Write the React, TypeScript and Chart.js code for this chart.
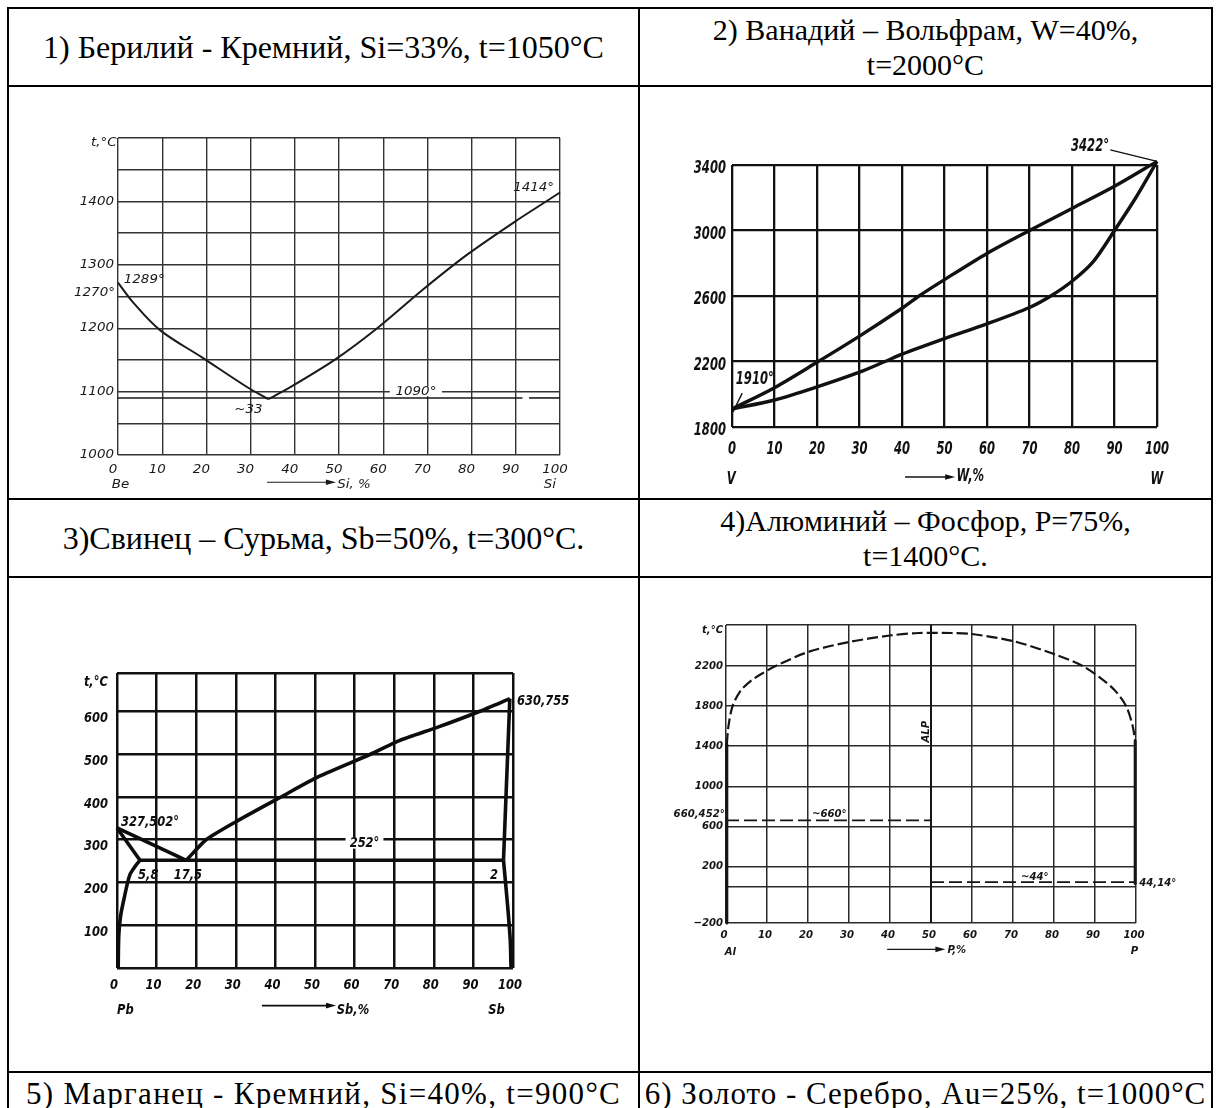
import React, { useEffect, useRef } from "react";
import { Chart, registerables } from "chart.js";

Chart.register(...registerables);

type Pt = [number, number];

// ================= DATA =================
// 1) Бериллий – Кремний
const BESI_X_TICKS = [0, 10, 20, 30, 40, 50, 60, 70, 80, 90, 100];
const BESI_Y_GRID = [1000, 1050, 1100, 1150, 1200, 1250, 1300, 1350, 1400, 1450, 1500];
const BESI_Y_LABELS = [1000, 1100, 1200, 1300, 1400];
const BESI_LIQ_LEFT: Pt[] = [[0, 1272], [3.5, 1240], [9.5, 1197], [19, 1154], [29, 1108], [34, 1088]];
const BESI_LIQ_RIGHT: Pt[] = [[34, 1088], [39, 1107], [49, 1150], [59, 1202], [69, 1261], [79, 1316], [90, 1369], [100, 1414]];
const BESI_EUT_A: Pt[] = [[0, 1090], [91.5, 1090]];
const BESI_EUT_B: Pt[] = [[93, 1090], [100, 1090]];

// 2) Ванадий – Вольфрам
const VW_X_TICKS = [0, 10, 20, 30, 40, 50, 60, 70, 80, 90, 100];
const VW_Y_GRID = [1800, 2200, 2600, 3000, 3400];
const VW_LIQUIDUS: Pt[] = [[0, 1910], [10, 2040], [20, 2195], [30, 2355], [40, 2525], [44, 2600], [50, 2700], [60, 2860], [70, 3000], [80, 3135], [90, 3270], [100, 3422]];
const VW_SOLIDUS: Pt[] = [[0, 1910], [10, 1965], [20, 2045], [30, 2135], [36, 2200], [40, 2245], [50, 2340], [60, 2430], [70, 2530], [75, 2600], [80, 2690], [85, 2810], [90, 3000], [95, 3200], [100, 3422]];
const VW_LEAD_TOP: Pt[] = [[89, 3492], [100, 3422]];
const VW_LEAD_LOW: Pt[] = [[2.4, 2007], [0.2, 1890]];

// 3) Свинец – Сурьма
const PBSB_X_TICKS = [0, 10, 20, 30, 40, 50, 60, 70, 80, 90, 100];
const PBSB_Y_GRID = [0, 100, 200, 300, 400, 500, 600, 690];
const PBSB_Y_LABELS = [100, 200, 300, 400, 500, 600];
const PBSB_LIQ_LEFT: Pt[] = [[0, 327.5], [17.5, 252]];
const PBSB_LIQ_RIGHT: Pt[] = [[17.5, 252], [22.5, 300], [30, 342], [41.4, 400], [51, 448], [64, 500], [71.3, 532], [81.2, 564], [91.5, 600], [99.2, 630]];
const PBSB_SOL_LEFT: Pt[] = [[0, 327.5], [5.8, 252]];
const PBSB_SOLVUS_LEFT: Pt[] = [[5.8, 252], [4.6, 238], [3.2, 217], [1.8, 163], [0.9, 121], [0.45, 76], [0.3, 0]];
const PBSB_EUTECTIC: Pt[] = [[5.8, 252], [97.6, 252]];
const PBSB_SOL_RIGHT: Pt[] = [[99.2, 630], [97.6, 252]];
const PBSB_SOLVUS_RIGHT: Pt[] = [[97.6, 252], [98.6, 150], [99.3, 66], [99.5, 0]];

// 4) Алюминий – Фосфор
const ALP_X_TICKS = [0, 10, 20, 30, 40, 50, 60, 70, 80, 90, 100];
const ALP_Y_GRID = [-365, 0, 200, 600, 1000, 1400, 1800, 2200, 2610];
const ALP_Y_LABEL_VALUES = [-365, 200, 600, 1000, 1400, 1800, 2200];
const ALP_Y_LABEL_TEXTS = ["\u2212200", "200", "600", "1000", "1400", "1800", "2200"];
const ALP_LIQUIDUS: Pt[] = [[0.2, 1420], [0.6, 1600], [1.6, 1800], [3.5, 1950], [6, 2050], [9, 2130], [12.1, 2200], [20, 2340], [30, 2440], [40, 2505], [47, 2530], [55, 2530], [60, 2520], [70, 2450], [80, 2320], [87, 2200], [92, 2060], [95, 1950], [97.6, 1800], [99.2, 1600], [99.8, 1450]];
const ALP_LEFT_EDGE: Pt[] = [[0.2, 1420], [0.2, -365]];
const ALP_RIGHT_EDGE: Pt[] = [[99.8, 1450], [99.8, 30]];
const ALP_COMPOUND: Pt[] = [[50, -365], [50, 2610]];
const ALP_AL_EUT: Pt[] = [[0, 660], [50, 660]];
const ALP_P_EUT: Pt[] = [[50, 44], [100, 44]];

// ================= TYPES =================
interface Series { pts: Pt[]; w: number; dash?: number[]; tension?: number }
interface Note { x: number; y: number; t: string; a?: CanvasTextAlign; bg?: boolean; rot?: number }
interface Arrow { x1: number; x2: number; y: number }
interface Spec {
  box: [number, number, number, number];
  area: [number, number, number, number];
  xMin: number; xMax: number; yMin: number; yMax: number;
  xGrid: number[]; yGrid: number[];
  xLabels: number[]; yLabelValues: number[]; yLabelTexts: string[];
  gridColor: string; gridWidth: number; ink: string;
  font: string; sx: number;
  xLabGap: number; xLabDx: number; yLabGap: number; yLabDy: number;
  series: Series[]; notes: Note[]; arrows: Arrow[]; arrowWidth: number;
}

// ================= CHART SPECS =================
const SPEC_BESI: Spec = {
  box: [9, 87, 629, 411],
  area: [118, 138, 560, 455],
  xMin: 0, xMax: 100, yMin: 1000, yMax: 1500,
  xGrid: BESI_X_TICKS, yGrid: BESI_Y_GRID,
  xLabels: BESI_X_TICKS, yLabelValues: BESI_Y_LABELS, yLabelTexts: BESI_Y_LABELS.map(String),
  gridColor: "#333", gridWidth: 1.4, ink: "#1a1a1a",
  font: "italic 12px 'DejaVu Sans'", sx: 1.12,
  xLabGap: 15, xLabDx: -5, yLabGap: 4, yLabDy: 0,
  series: [
    { pts: BESI_LIQ_LEFT, w: 2, tension: 0.35 },
    { pts: BESI_LIQ_RIGHT, w: 2, tension: 0.2 },
    { pts: BESI_EUT_A, w: 1.6 },
    { pts: BESI_EUT_B, w: 1.6 },
  ],
  notes: [
    { x: -0.3, y: 1492, t: "t,°C", a: "right" },
    { x: 1.3, y: 1276, t: "1289°", a: "left" },
    { x: -0.7, y: 1255, t: "1270°", a: "right" },
    { x: 89.4, y: 1421, t: "1414°", a: "left" },
    { x: 67.4, y: 1100, t: "1090°", a: "center", bg: true },
    { x: 29.5, y: 1071, t: "~33", a: "center" },
    { x: -1.4, y: 953, t: "Be", a: "left" },
    { x: 99.1, y: 953, t: "Si", a: "right" },
    { x: 49.6, y: 953, t: "Si, %", a: "left" },
  ],
  arrows: [{ x1: 33.7, x2: 49.3, y: 957 }],
  arrowWidth: 1.2,
};

const SPEC_VW: Spec = {
  box: [640, 87, 571, 411],
  area: [732, 165, 1157, 427],
  xMin: 0, xMax: 100, yMin: 1800, yMax: 3400,
  xGrid: VW_X_TICKS, yGrid: VW_Y_GRID,
  xLabels: VW_X_TICKS, yLabelValues: VW_Y_GRID, yLabelTexts: VW_Y_GRID.map(String),
  gridColor: "#111", gridWidth: 2.3, ink: "#111",
  font: "italic bold 17px 'DejaVu Sans'", sx: 0.68,
  xLabGap: 23, xLabDx: 0, yLabGap: 6, yLabDy: 4,
  series: [
    { pts: VW_LIQUIDUS, w: 3.4, tension: 0.3 },
    { pts: VW_SOLIDUS, w: 3.4, tension: 0.3 },
    { pts: VW_LEAD_TOP, w: 1.4 },
    { pts: VW_LEAD_LOW, w: 1.4 },
  ],
  notes: [
    { x: 88.7, y: 3510, t: "3422°", a: "right" },
    { x: 0.9, y: 2087, t: "1910°", a: "left" },
    { x: -0.2, y: 1476, t: "V", a: "center" },
    { x: 100, y: 1476, t: "W", a: "center" },
    { x: 52.8, y: 1495, t: "W,%", a: "left" },
  ],
  arrows: [{ x1: 40.7, x2: 52.5, y: 1495 }],
  arrowWidth: 1.6,
};

const SPEC_PBSB: Spec = {
  box: [9, 578, 629, 493],
  area: [117, 673, 513, 968],
  xMin: 0, xMax: 100, yMin: 0, yMax: 690,
  xGrid: PBSB_X_TICKS, yGrid: PBSB_Y_GRID,
  xLabels: PBSB_X_TICKS, yLabelValues: PBSB_Y_LABELS, yLabelTexts: PBSB_Y_LABELS.map(String),
  gridColor: "#111", gridWidth: 2.5, ink: "#0d0d0d",
  font: "italic bold 14px 'DejaVu Sans'", sx: 0.82,
  xLabGap: 17, xLabDx: -3, yLabGap: 9, yLabDy: 7,
  series: [
    { pts: PBSB_LIQ_LEFT, w: 3.6 },
    { pts: PBSB_LIQ_RIGHT, w: 3.6, tension: 0.2 },
    { pts: PBSB_SOL_LEFT, w: 3.6 },
    { pts: PBSB_SOLVUS_LEFT, w: 3.6, tension: 0.3 },
    { pts: PBSB_EUTECTIC, w: 3.6 },
    { pts: PBSB_SOL_RIGHT, w: 3.6 },
    { pts: PBSB_SOLVUS_RIGHT, w: 3.6, tension: 0.3 },
  ],
  notes: [
    { x: -2.3, y: 667, t: "t,°C", a: "right" },
    { x: 1.0, y: 341.5, t: "327,502°", a: "left" },
    { x: 62.5, y: 291.7, t: "252°", a: "center", bg: true },
    { x: 7.9, y: 217.5, t: "5,8", a: "center" },
    { x: 17.9, y: 217.5, t: "17,5", a: "center" },
    { x: 95.2, y: 217.5, t: "2", a: "center" },
    { x: 101, y: 623, t: "630,755", a: "left" },
    { x: 0, y: -98, t: "Pb", a: "left" },
    { x: 95.8, y: -98, t: "Sb", a: "center" },
    { x: 55.5, y: -98, t: "Sb,%", a: "left" },
  ],
  arrows: [{ x1: 36.6, x2: 55.3, y: -88 }],
  arrowWidth: 1.6,
};

const SPEC_ALP: Spec = {
  box: [640, 578, 571, 493],
  area: [726, 625, 1136, 923],
  xMin: 0, xMax: 100, yMin: -365, yMax: 2610,
  xGrid: ALP_X_TICKS, yGrid: ALP_Y_GRID,
  xLabels: ALP_X_TICKS, yLabelValues: ALP_Y_LABEL_VALUES, yLabelTexts: ALP_Y_LABEL_TEXTS,
  gridColor: "#2a2a2a", gridWidth: 1.5, ink: "#151515",
  font: "italic bold 11px 'DejaVu Sans'", sx: 0.92,
  xLabGap: 12, xLabDx: -2, yLabGap: 3, yLabDy: 0,
  series: [
    { pts: ALP_LIQUIDUS, w: 2.2, dash: [11, 4], tension: 0.3 },
    { pts: ALP_LEFT_EDGE, w: 3 },
    { pts: ALP_RIGHT_EDGE, w: 3 },
    { pts: ALP_COMPOUND, w: 2 },
    { pts: ALP_AL_EUT, w: 1.8, dash: [13, 5] },
    { pts: ALP_P_EUT, w: 1.8, dash: [13, 5] },
  ],
  notes: [
    { x: -0.7, y: 2560, t: "t,°C", a: "right" },
    { x: -0.3, y: 723, t: "660,452°", a: "right" },
    { x: 25.2, y: 723, t: "~660°", a: "center" },
    { x: 75.3, y: 97, t: "~44°", a: "center" },
    { x: 100.8, y: 31, t: "44,14°", a: "left" },
    { x: 48.8, y: 1545, t: "ALP", a: "center", rot: -Math.PI / 2 },
    { x: -0.3, y: -651, t: "Al", a: "left" },
    { x: 99.6, y: -645, t: "P", a: "center" },
    { x: 54, y: -635, t: "P,%", a: "left" },
  ],
  arrows: [{ x1: 39.3, x2: 53.5, y: -628 }],
  arrowWidth: 1.2,
};

// ================= PLUGIN =================
function makeNotesPlugin(spec: Spec) {
  return {
    id: "phaseNotes",
    afterDraw(chart: any) {
      const ctx: CanvasRenderingContext2D = chart.ctx;
      const xs = chart.scales.x;
      const ys = chart.scales.y;
      const area = chart.chartArea;
      const put = (t: string, px: number, py: number, align: CanvasTextAlign, bg?: boolean, rot?: number) => {
        ctx.save();
        ctx.font = spec.font;
        ctx.translate(px, py);
        if (rot) ctx.rotate(rot);
        ctx.scale(spec.sx, 1);
        ctx.textAlign = align;
        ctx.textBaseline = "middle";
        if (bg) {
          const w = ctx.measureText(t).width;
          const h = parseFloat(spec.font.replace(/.*?(\d+(\.\d+)?)px.*/, "$1"));
          const x0 = align === "center" ? -w / 2 : align === "right" ? -w : 0;
          ctx.fillStyle = "#fff";
          ctx.fillRect(x0 - 5, -h * 0.42, w + 10, h * 0.8);
        }
        ctx.fillStyle = spec.ink;
        ctx.fillText(t, 0, 0);
        ctx.restore();
      };
      spec.xLabels.forEach((v) => put(String(v), xs.getPixelForValue(v) + spec.xLabDx, area.bottom + spec.xLabGap, "center"));
      spec.yLabelValues.forEach((v, i) => put(spec.yLabelTexts[i], area.left - spec.yLabGap, ys.getPixelForValue(v) + spec.yLabDy, "right"));
      spec.notes.forEach((n) => put(n.t, xs.getPixelForValue(n.x), ys.getPixelForValue(n.y), n.a || "center", n.bg, n.rot));
      spec.arrows.forEach((a) => {
        const x1 = xs.getPixelForValue(a.x1);
        const x2 = xs.getPixelForValue(a.x2);
        const y = ys.getPixelForValue(a.y);
        ctx.save();
        ctx.strokeStyle = spec.ink;
        ctx.fillStyle = spec.ink;
        ctx.lineWidth = spec.arrowWidth;
        ctx.beginPath();
        ctx.moveTo(x1, y);
        ctx.lineTo(x2 - 6, y);
        ctx.stroke();
        ctx.beginPath();
        ctx.moveTo(x2, y);
        ctx.lineTo(x2 - 10, y - 2.8);
        ctx.lineTo(x2 - 10, y + 2.8);
        ctx.closePath();
        ctx.fill();
        ctx.restore();
      });
    },
  };
}

// ================= COMPONENTS =================
function PhaseChart({ spec }: { spec: Spec }) {
  const ref = useRef<HTMLCanvasElement>(null);
  const [bx, by, bw, bh] = spec.box;
  useEffect(() => {
    const c = ref.current;
    if (!c) return;
    const [l, t, r, b] = spec.area;
    c.width = bw;
    c.height = bh;
    const axis = (min: number, max: number, grid: number[], horizontal: boolean) => ({
      type: "linear" as const,
      min,
      max,
      afterBuildTicks: (s: any) => {
        s.ticks = grid.map((v) => ({ value: v }));
      },
      afterFit: (s: any) => {
        if (horizontal) s.height = 0;
        else s.width = 0;
      },
      ticks: { display: false },
      grid: { color: spec.gridColor, lineWidth: spec.gridWidth, drawTicks: false },
      border: { display: false },
    });
    const chart = new Chart(c, {
      type: "scatter",
      data: {
        datasets: spec.series.map((s) => ({
          data: s.pts.map(([x, y]) => ({ x, y })),
          showLine: true,
          borderColor: spec.ink,
          backgroundColor: spec.ink,
          borderWidth: s.w,
          borderDash: s.dash || [],
          tension: s.tension || 0,
          pointRadius: 0,
          pointHoverRadius: 0,
          clip: false as any,
          fill: false,
          borderCapStyle: "butt" as const,
          borderJoinStyle: "round" as const,
        })),
      },
      options: {
        responsive: false,
        animation: false,
        events: [],
        layout: { padding: { left: l - bx, top: t - by, right: bx + bw - r, bottom: by + bh - b } },
        plugins: { legend: { display: false }, tooltip: { enabled: false } },
        scales: {
          x: axis(spec.xMin, spec.xMax, spec.xGrid, true),
          y: axis(spec.yMin, spec.yMax, spec.yGrid, false),
        },
      } as any,
      plugins: [makeNotesPlugin(spec)],
    });
    return () => chart.destroy();
  }, [spec]);
  return <canvas ref={ref} style={{ position: "absolute", left: bx, top: by, width: bw, height: bh }} />;
}

const serif = "'Liberation Serif', 'Times New Roman', serif";

function Cell({ x, y, w, h, size, ls = 0, children }: { x: number; y: number; w: number; h: number; size: number; ls?: number; children: React.ReactNode }) {
  return (
    <div
      style={{
        position: "absolute",
        left: x,
        top: y,
        width: w,
        height: h,
        display: "flex",
        alignItems: "center",
        justifyContent: "center",
        textAlign: "center",
        fontFamily: serif,
        fontSize: size,
        letterSpacing: ls,
        lineHeight: "35px",
        color: "#000",
        whiteSpace: "nowrap",
      }}
    >
      <div>{children}</div>
    </div>
  );
}

const H_LINES = [7, 85, 498, 576, 1071];
const V_LINES = [7, 638, 1211];

export default function App() {
  return (
    <div style={{ position: "absolute", left: 0, top: 0, width: 1217, height: 1108, overflow: "hidden", background: "#fff" }}>
      <Cell x={9} y={9} w={629} h={76} size={32}>1) Берилий - Кремний, Si=33%, t=1050°C</Cell>
      <Cell x={640} y={9} w={571} h={76} size={30}>
        2) Ванадий – Вольфрам, W=40%,
        <br />
        t=2000°C
      </Cell>
      <Cell x={9} y={500} w={629} h={76} size={32}>3)Свинец – Сурьма, Sb=50%, t=300°C.</Cell>
      <Cell x={640} y={500} w={571} h={76} size={30}>
        4)Алюминий – Фосфор, P=75%,
        <br />
        t=1400°C.
      </Cell>
      <Cell x={9} y={1073} w={629} h={40} size={31} ls={1.3}>5) Марганец - Кремний, Si=40%, t=900°C</Cell>
      <Cell x={640} y={1073} w={571} h={40} size={31} ls={1.0}>6) Золото - Серебро, Au=25%, t=1000°C</Cell>

      <PhaseChart spec={SPEC_BESI} />
      <PhaseChart spec={SPEC_VW} />
      <PhaseChart spec={SPEC_PBSB} />
      <PhaseChart spec={SPEC_ALP} />

      {H_LINES.map((y) => (
        <div key={"h" + y} style={{ position: "absolute", left: 7, top: y, width: 1206, height: 2, background: "#000" }} />
      ))}
      {V_LINES.map((x) => (
        <div key={"v" + x} style={{ position: "absolute", left: x, top: 7, width: 2, height: 1120, background: "#000" }} />
      ))}
    </div>
  );
}
